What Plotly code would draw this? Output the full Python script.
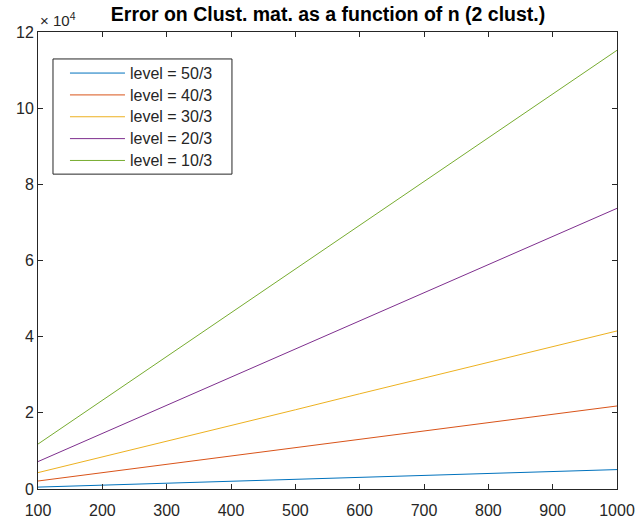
import plotly.graph_objects as go

n = [100, 200, 300, 400, 500, 600, 700, 800, 900, 1000]
levels = ["level = 50/3", "level = 40/3", "level = 30/3", "level = 20/3", "level = 10/3"]
err_50 = [500, 1000, 1500, 2000, 2600, 3100, 3600, 4100, 4600, 5100]
err_40 = [2100, 4300, 6500, 8700, 10900, 13000, 15200, 17400, 19600, 21800]
err_30 = [4300, 8400, 12600, 16700, 20800, 25000, 29100, 33200, 37400, 41500]
err_20 = [7200, 14600, 22000, 29400, 36800, 44200, 51500, 58900, 66300, 73700]
err_10 = [11800, 23300, 34800, 46300, 57700, 69200, 80700, 92200, 103700, 115200]
series = [err_50, err_40, err_30, err_20, err_10]
colors = ["#0072BD", "#D95319", "#EDB120", "#7E2F8E", "#77AC30"]

y_ticks = [0, 20000, 40000, 60000, 80000, 100000, 120000]
y_ticklabels = ["0", "2", "4", "6", "8", "10", "12"]
x_ticks = [100, 200, 300, 400, 500, 600, 700, 800, 900, 1000]

FONT = "Liberation Sans, Arial"
fig = go.Figure()
for name, ys, c in zip(levels, series, colors):
    fig.add_trace(go.Scatter(x=n, y=ys, mode="lines",
                             name='<span style="font-size:16px">' + name + '</span>',
                             line=dict(color=c, width=1)))

axis_common = dict(showgrid=False, zeroline=False, showline=True, linecolor="#262626",
                   linewidth=1, mirror="ticks", ticks="inside", ticklen=5, automargin=False,
                   tickcolor="#262626", tickfont=dict(family=FONT, size=16, color="#262626"))

fig.update_layout(
    width=637, height=523,
    margin=dict(l=38, r=20, t=32, b=34),
    paper_bgcolor="white", plot_bgcolor="white",
    title=dict(text="<b>Error on Clust. mat. as a function of n (2 clust.)</b>",
               x=0.515, xanchor="center", y=0.972, yanchor="middle",
               font=dict(family=FONT, size=19.5, color="black")),
    xaxis=dict(range=[100, 1000], tickvals=x_ticks, ticklabelstandoff=7, **axis_common),
    yaxis=dict(range=[0, 120000], tickvals=y_ticks, ticktext=y_ticklabels, ticklabelstandoff=0, **axis_common),
    legend=dict(x=0.0466, y=0.945, xanchor="left", yanchor="top",
                borderwidth=0, bgcolor="rgba(0,0,0,0)",
                font=dict(family=FONT, size=14.5, color="#262626"),
                itemwidth=55, tracegroupgap=0),
    showlegend=True,
)
# legend frame
fig.add_shape(type="rect", xref="paper", yref="paper", x0=0.0259, x1=0.335, y0=0.689, y1=0.941,
              line=dict(color="#262626", width=1), fillcolor="white", layer="above")
fig.add_annotation(text="× 10<sup>4</sup>", xref="paper", yref="paper", x=0.0, y=1.0,
                   xanchor="left", yanchor="bottom", showarrow=False, yshift=1,
                   font=dict(family=FONT, size=15, color="#262626"))

fig.write_html("out.html")
